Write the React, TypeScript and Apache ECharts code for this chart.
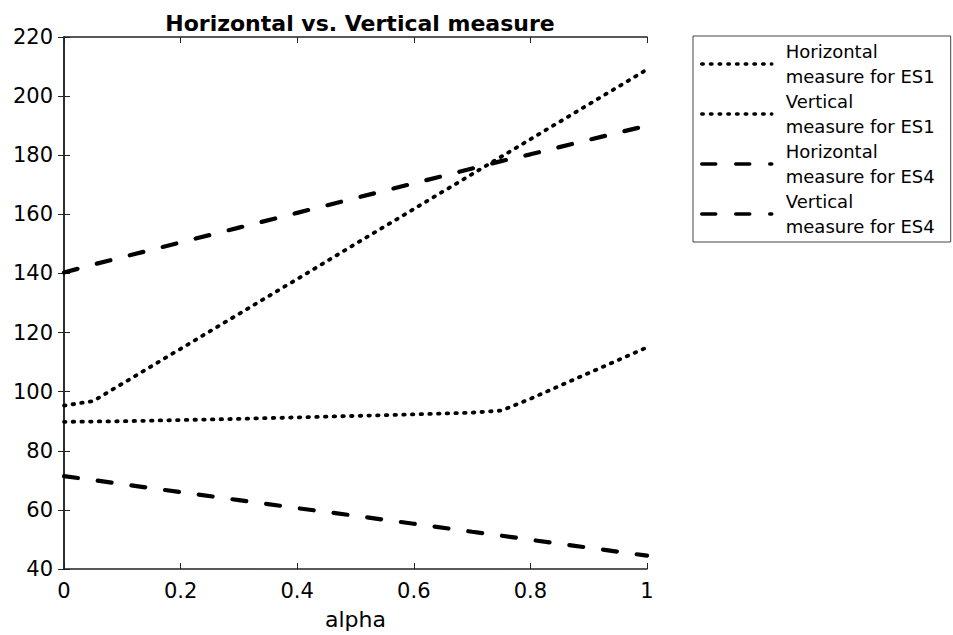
import React, { useEffect, useRef } from "react";
import * as echarts from "echarts";

const alpha = [0, 0.05, 0.1, 0.2, 0.3, 0.4, 0.5, 0.6, 0.7, 0.75, 0.8, 0.9, 1];
const horizontalES1 = [95.3, 96.8, 102.7, 114.5, 126.3, 138.1, 150.0, 161.8, 173.6, 179.5, 185.4, 197.2, 209.0];
const verticalES1 = [89.8, 89.9, 90.0, 90.4, 90.8, 91.3, 91.8, 92.3, 92.9, 93.6, 97.6, 106.3, 115.0];
const horizontalES4 = [140.3, 143.0, 145.5, 150.5, 155.5, 160.5, 165.5, 170.5, 175.5, 178.0, 180.3, 185.2, 190.0];
const verticalES4 = [71.4, 70.1, 68.7, 66.0, 63.3, 60.6, 58.0, 55.3, 52.6, 51.3, 49.9, 47.2, 44.5];

const seriesNames = [
  "Horizontal measure for ES1",
  "Vertical measure for ES1",
  "Horizontal measure for ES4",
  "Vertical measure for ES4",
];
const seriesValues = [horizontalES1, verticalES1, horizontalES4, verticalES4];
const seriesStyles = ["dotted", "dotted", "dashed", "dashed"];

const font = "DejaVu Sans";

export default function App() {
  const ref = useRef<HTMLDivElement>(null);
  useEffect(() => {
    if (!ref.current) return;
    const chart = echarts.init(ref.current, null, { renderer: "svg" });
    const axisLine = { show: true, lineStyle: { color: "#222", width: 1.5 } };
    const tick = { show: true, inside: true, length: 6, lineStyle: { color: "#222" } };
    chart.setOption({
      animation: false,
      backgroundColor: "#fff",
      title: {
        text: "Horizontal vs. Vertical measure",
        left: 355,
        textAlign: "center",
        top: 7,
        textStyle: { fontFamily: font, fontWeight: "bold", fontSize: 22, color: "#000" },
      },
      legend: {
        orient: "vertical",
        left: 693,
        top: 36,
        itemWidth: 70,
        itemHeight: 14,
        itemGap: 0,
        padding: [3, 16, 3, 7],
        borderColor: "#444",
        borderWidth: 1,
        selectedMode: false,
        itemStyle: { opacity: 0, borderWidth: 0 },
        lineStyle: { width: 3.5, cap: "round" },
        formatter: (n: string) => n.replace(" measure", "\nmeasure"),
        textStyle: {
          fontFamily: font,
          fontSize: 18,
          lineHeight: 25,
          color: "#000",
          padding: [0, 0, 0, 9],
        },
        data: seriesNames,
      },
      grid: { left: 64, right: 306, top: 37, bottom: 66, containLabel: false },
      xAxis: [
        {
          type: "value",
          min: 0,
          max: 1,
          interval: 0.2,
          name: "alpha",
          nameLocation: "middle",
          nameGap: 39,
          nameTextStyle: { fontFamily: font, fontSize: 22, color: "#000" },
          axisLine,
          axisTick: tick,
          splitLine: { show: false },
          axisLabel: {
            fontFamily: font,
            fontSize: 21,
            color: "#000",
            margin: 11,
            formatter: (v: number) => String(parseFloat(v.toFixed(1))),
          },
        },
        {
          type: "value",
          position: "top",
          min: 0,
          max: 1,
          interval: 0.2,
          axisLine,
          axisTick: tick,
          axisLabel: { show: false },
          splitLine: { show: false },
        },
      ],
      yAxis: [
        {
          type: "value",
          min: 40,
          max: 220,
          interval: 20,
          axisLine,
          axisTick: tick,
          splitLine: { show: false },
          axisLabel: { fontFamily: font, fontSize: 21, color: "#000", margin: 11 },
        },
        {
          type: "value",
          position: "right",
          min: 40,
          max: 220,
          interval: 20,
          axisLine,
          axisTick: tick,
          axisLabel: { show: false },
          splitLine: { show: false },
        },
      ],
      series: seriesNames.map((name, i) => ({
        name,
        type: "line",
        symbol: "none",
        xAxisIndex: 0,
        yAxisIndex: 0,
        data: alpha.map((a, j) => [a, seriesValues[i][j]]),
        lineStyle: {
          color: "#000",
          width: seriesStyles[i] === "dotted" ? 3.8 : 4.2,
          type: seriesStyles[i] === "dotted" ? [1.5, 7.2] : [14, 20],
          cap: "round",
        },
        itemStyle: { color: "#000" },
      })),
    });
    return () => chart.dispose();
  }, []);
  return (
    <div
      ref={ref}
      style={{ position: "fixed", left: 0, top: 0, width: 953, height: 635, background: "#fff" }}
    />
  );
}
